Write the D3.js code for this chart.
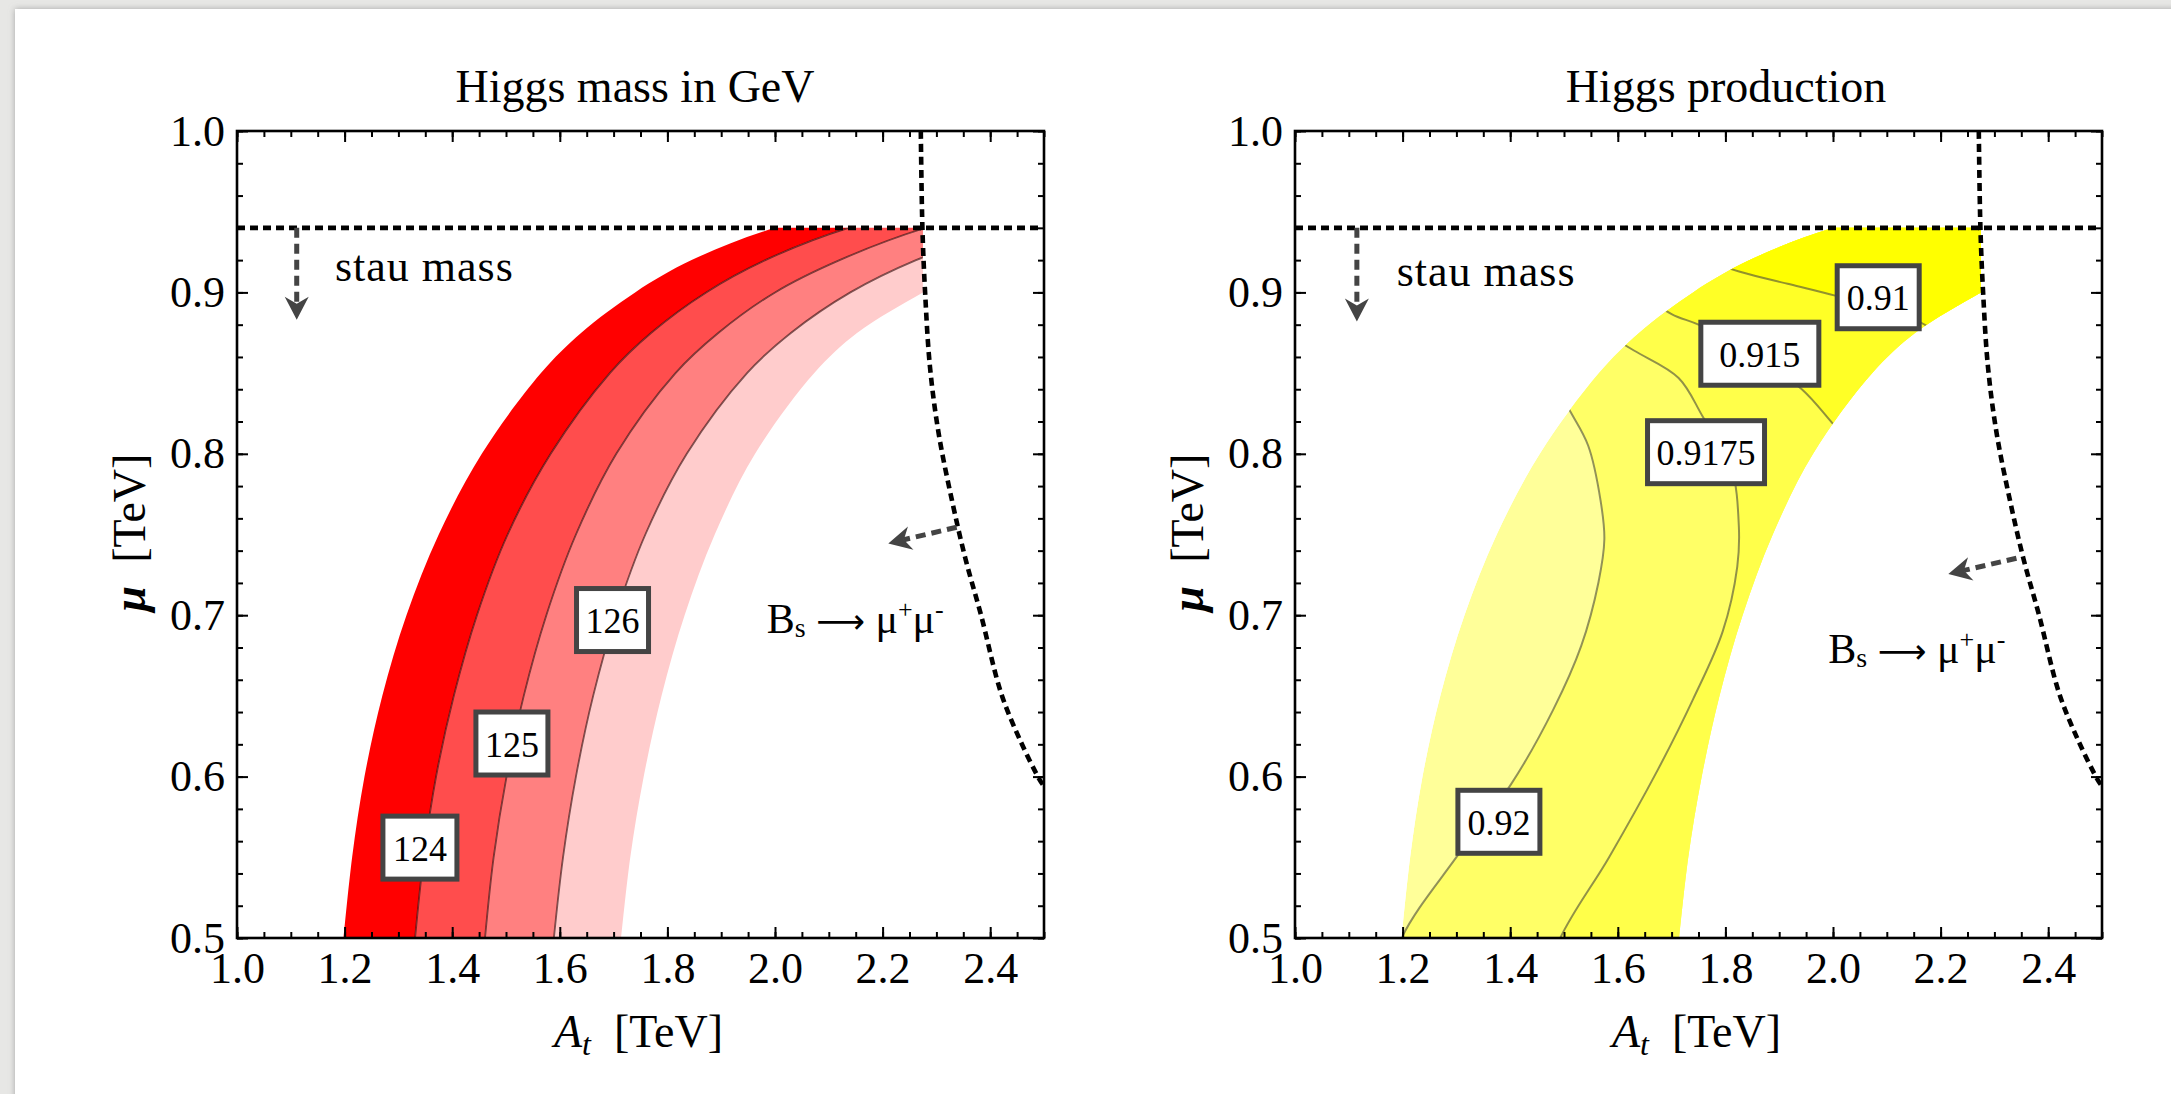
<!DOCTYPE html>
<html>
<head>
<meta charset="utf-8">
<script src="https://cdn.jsdelivr.net/npm/d3@7/dist/d3.min.js"></script>
<style>
html,body{margin:0;padding:0;background:#e7e7e5;}
svg{display:block;}
text{font-family:"Liberation Serif","Times New Roman",serif;fill:#000;}
</style>
</head>
<body>
<svg id="chart" width="2171" height="1094"></svg>
<script>
// ================= DATA =================
const xTickValues = [1.0, 1.2, 1.4, 1.6, 1.8, 2.0, 2.2, 2.4];
const yTickValues = [0.5, 0.6, 0.7, 0.8, 0.9, 1.0];
const panelTitles = ["Higgs mass in GeV", "Higgs production"];

// Higgs-mass contours: A_t [TeV] at each mu [TeV] of muGrid
const muGrid = [0.50, 0.55, 0.60, 0.65, 0.70, 0.75, 0.80, 0.85, 0.875, 0.90, 0.92, 0.94, 0.96];
const mhLow  = [1.198, 1.214, 1.237, 1.270, 1.315, 1.375, 1.455, 1.565, 1.640, 1.740, 1.845, 2.000, 2.250];
const mh124  = [1.331, 1.347, 1.370, 1.403, 1.446, 1.503, 1.583, 1.693, 1.770, 1.872, 1.982, 2.137, 2.390];
const mh125  = [1.461, 1.477, 1.501, 1.533, 1.575, 1.630, 1.705, 1.815, 1.895, 2.000, 2.120, 2.280, 2.530];
const mh126  = [1.589, 1.606, 1.630, 1.662, 1.704, 1.759, 1.836, 1.948, 2.030, 2.140, 2.262, 2.430, 2.680];
const mhHigh = [1.714, 1.731, 1.756, 1.789, 1.832, 1.888, 1.963, 2.073, 2.153, 2.275, 2.390, 2.550, 2.800];
const massLabels   = ["124", "125", "126"];
const massLabelAt  = [1.340, 1.511, 1.698];
const massLabelMu  = [0.556, 0.6205, 0.697];

// Higgs-production contours: [A_t, mu]
const prod0920  = [[1.150,0.45],[1.198,0.50],[1.299,0.5496],[1.402,0.5955],[1.480,0.6415],[1.532,0.681],[1.564,0.7203],[1.575,0.747],[1.568,0.771],[1.545,0.805],[1.512,0.826],[1.470,0.850]];
const prod09175 = [[1.440,0.45],[1.493,0.50],[1.583,0.5496],[1.674,0.604],[1.740,0.648],[1.795,0.690],[1.822,0.730],[1.825,0.755],[1.810,0.793],[1.758,0.823],[1.713,0.847],[1.630,0.864],[1.550,0.880]];
const prod0915  = [[1.620,0.905],[1.700,0.8866],[1.750,0.880],[1.850,0.862],[1.942,0.840],[1.998,0.8193],[2.060,0.795]];
const prod0910  = [[1.720,0.925],[1.827,0.9128],[1.920,0.905],[2.004,0.898],[2.084,0.890],[2.165,0.881],[2.180,0.878],[2.260,0.865]];
const prodLabels  = ["0.92", "0.9175", "0.915", "0.91"];
const prodLabelAt = [1.379, 1.764, 1.864, 2.084];
const prodLabelMu = [0.572, 0.801, 0.862, 0.897];

// Constraints
const stauMu = 0.94;
const bsBoundary = [[2.271,1.0],[2.274,0.94],[2.279,0.90],[2.288,0.854],[2.304,0.813],[2.329,0.771],[2.354,0.735],[2.383,0.700],[2.420,0.652],[2.455,0.623],[2.492,0.598],[2.500,0.594]];
const bsCut = 2.275;

// ================= LAYOUT =================
const PW = 807, PH = 807, PTOP = 131;
const panelX = [237, 1295];
const titleCenter = [398, 431];
const svg = d3.select("#chart");
const defs = svg.append("defs");

const sh = defs.append("filter").attr("id","shadow").attr("x","-2%").attr("y","-2%").attr("width","104%").attr("height","104%");
sh.append("feDropShadow").attr("dx",0).attr("dy",0).attr("stdDeviation",3).attr("flood-color","#8a8a8a").attr("flood-opacity",0.7);
svg.append("rect").attr("x",15).attr("y",9).attr("width",2171).attr("height",1094).attr("fill","#fff").attr("filter","url(#shadow)");

function drawPanel(idx) {
  const g = svg.append("g").attr("transform", `translate(${panelX[idx]},${PTOP})`);
  const x = d3.scaleLinear().domain([1.0, 2.5]).range([0, PW]);
  const y = d3.scaleLinear().domain([0.5, 1.0]).range([PH, 0]);

  defs.append("clipPath").attr("id", "rclip" + idx).append("rect")
    .attr("x", x(1.0)).attr("y", y(stauMu)).attr("width", x(bsCut) - x(1.0)).attr("height", y(0.5) - y(stauMu));
  defs.append("clipPath").attr("id", "pclip" + idx).append("rect")
    .attr("x", 0).attr("y", 0).attr("width", PW).attr("height", PH);

  const band = (lo, hi) => d3.area().curve(d3.curveCatmullRom)
      .y((d, i) => y(muGrid[i])).x0((d, i) => x(lo[i])).x1((d, i) => x(hi[i]))(muGrid);
  const vline = d3.line().curve(d3.curveCatmullRom).y((d, i) => y(muGrid[i])).x(d => x(d));
  const pline = d3.line().curve(d3.curveCatmullRom).x(d => x(d[0])).y(d => y(d[1]));

  const inner = g.append("g").attr("clip-path", `url(#rclip${idx})`);

  if (idx === 0) {
    const edges = [mhLow, mh124, mh125, mh126, mhHigh];
    const cols = ["#ff0000", "#ff4d4d", "#ff8080", "#ffcccc"];
    for (let k = 0; k < 4; k++) {
      inner.append("path").attr("d", band(edges[k], edges[k + 1])).attr("fill", cols[k]);
    }
    [mh124, mh125, mh126].forEach(c => {
      inner.append("path").attr("d", vline(c)).attr("fill", "none")
        .attr("stroke", "#3a1010").attr("stroke-opacity", 0.65).attr("stroke-width", 1.8);
    });
  } else {
    defs.append("clipPath").attr("id", "bclip" + idx).append("path").attr("d", band(mhLow, mhHigh));
    const zone = inner.append("g").attr("clip-path", `url(#bclip${idx})`);
    zone.append("path").attr("d", band(mhLow, mhHigh)).attr("fill", "#ffff99");
    const conts = [prod0920, prod09175, prod0915, prod0910];
    const cols = ["#ffff66", "#ffff4a", "#ffff26", "#ffff00"];
    conts.forEach((c, k) => {
      const first = c[0], last = c[c.length - 1];
      let d = pline(c);
      if (k < 2) {
        d += `L${x(last[0])},${y(1.05)}L${x(2.6)},${y(1.05)}L${x(2.6)},${y(0.45)}L${x(first[0])},${y(0.45)}Z`;
      } else {
        d += `L${x(2.6)},${y(last[1])}L${x(2.6)},${y(1.05)}L${x(first[0])},${y(1.05)}Z`;
      }
      zone.append("path").attr("d", d).attr("fill", cols[k]);
    });
    conts.forEach(c => {
      zone.append("path").attr("d", pline(c)).attr("fill", "none")
        .attr("stroke", "#4a4a3a").attr("stroke-opacity", 0.6).attr("stroke-width", 2);
    });
  }

  // constraint lines
  const cons = g.append("g").attr("clip-path", `url(#pclip${idx})`);
  cons.append("line").attr("x1", x(1.0)).attr("x2", x(2.5)).attr("y1", y(stauMu)).attr("y2", y(stauMu))
    .attr("stroke", "#000").attr("stroke-width", 4.6).attr("stroke-dasharray", "8,5");
  cons.append("path").attr("d", pline(bsBoundary)).attr("fill", "none")
    .attr("stroke", "#000").attr("stroke-width", 4.6).attr("stroke-dasharray", "8,5");

  // arrows
  const arrow = (a0, m0, a1, m1) => {
    const X0 = x(a0), Y0 = y(m0), X1 = x(a1), Y1 = y(m1);
    const ang = Math.atan2(Y1 - Y0, X1 - X0);
    const L = Math.hypot(X1 - X0, Y1 - Y0) - 16;
    g.append("line").attr("x1", X0).attr("y1", Y0)
      .attr("x2", X0 + Math.cos(ang) * L).attr("y2", Y0 + Math.sin(ang) * L)
      .attr("stroke", "#444").attr("stroke-width", 5).attr("stroke-dasharray", "10,6");
    g.append("path").attr("d", "M0,0L-23,-12L-16,0L-23,12Z").attr("fill", "#444")
      .attr("transform", `translate(${X1},${Y1}) rotate(${ang * 180 / Math.PI})`);
  };
  if (idx === 0) {
    arrow(1.111, stauMu, 1.111, 0.883);
    arrow(2.3377, 0.7545, 2.2106, 0.7445);
  } else {
    arrow(1.115, stauMu, 1.115, 0.882);
    arrow(2.341, 0.7353, 2.2144, 0.7255);
  }

  // annotations
  const stauPos = idx === 0 ? [1.182, 0.907] : [1.189, 0.904];
  g.append("text").attr("x", x(stauPos[0])).attr("y", y(stauPos[1]))
    .attr("font-size", 44).attr("letter-spacing", 1).text("stau mass");

  const bsPos = idx === 0 ? [1.9846, 0.6888] : [1.9913, 0.6704];
  const bt = g.append("text").attr("x", x(bsPos[0])).attr("y", y(bsPos[1])).attr("font-size", 42);
  bt.append("tspan").text("B");
  bt.append("tspan").attr("font-size", 28).attr("dy", 4).text("s");
  bt.append("tspan").attr("dy", -4).text("\u00a0");
  bt.append("tspan").attr("font-family", "DejaVu Sans").attr("font-size", 34).text("\u27f6");
  bt.append("tspan").text("\u00a0\u03bc");
  bt.append("tspan").attr("font-size", 26).attr("dy", -15).text("+");
  bt.append("tspan").attr("dy", 15).text("\u03bc");
  bt.append("tspan").attr("font-size", 26).attr("dy", -15).text("-");

  // contour labels
  const labs = idx === 0 ? massLabels : prodLabels;
  const la = idx === 0 ? massLabelAt : prodLabelAt;
  const lm = idx === 0 ? massLabelMu : prodLabelMu;
  const boxW = idx === 0 ? [79, 77, 77] : [87, 122, 123, 87];
  labs.forEach((t, i) => {
    const cx = x(la[i]), cy = y(lm[i]);
    g.append("rect").attr("x", cx - boxW[i] / 2 + 2.5).attr("y", cy - 34 + 2.5)
      .attr("width", boxW[i] - 5).attr("height", 63)
      .attr("fill", "#fff").attr("stroke", "#444").attr("stroke-width", 5);
    g.append("text").attr("x", cx).attr("y", cy + 1).attr("text-anchor", "middle")
      .attr("dominant-baseline", "central").attr("font-size", 36).text(t);
  });

  // axes (ticks inward on all sides)
  const styleAxis = sel => {
    sel.select(".domain").remove();
    sel.selectAll(".tick line").attr("stroke", "#000").attr("stroke-width", 2);
    sel.attr("font-family", '"Liberation Serif","Times New Roman",serif').attr("font-size", 44);
    sel.selectAll("text").attr("fill", "#000");
  };
  const xMinor = x.ticks(30), yMinor = y.ticks(25);
  g.append("g").attr("transform", `translate(0,${PH})`)
    .call(d3.axisBottom(x).tickValues(xMinor).tickSize(-6).tickFormat("")).call(styleAxis);
  g.append("g").attr("transform", `translate(0,${PH})`)
    .call(d3.axisBottom(x).tickValues(xTickValues).tickSize(-11).tickPadding(14).tickFormat(d3.format(".1f"))).call(styleAxis);
  g.append("g").call(d3.axisTop(x).tickValues(xMinor).tickSize(-6).tickFormat("")).call(styleAxis);
  g.append("g").call(d3.axisTop(x).tickValues(xTickValues).tickSize(-11).tickFormat("")).call(styleAxis);
  g.append("g").call(d3.axisLeft(y).tickValues(yMinor).tickSize(-6).tickFormat("")).call(styleAxis);
  g.append("g").call(d3.axisLeft(y).tickValues(yTickValues).tickSize(-11).tickPadding(12).tickFormat(d3.format(".1f"))).call(styleAxis);
  g.append("g").attr("transform", `translate(${PW},0)`)
    .call(d3.axisRight(y).tickValues(yMinor).tickSize(-6).tickFormat("")).call(styleAxis);
  g.append("g").attr("transform", `translate(${PW},0)`)
    .call(d3.axisRight(y).tickValues(yTickValues).tickSize(-11).tickFormat("")).call(styleAxis);

  g.append("rect").attr("x", 0).attr("y", 0).attr("width", PW).attr("height", PH)
    .attr("fill", "none").attr("stroke", "#000").attr("stroke-width", 2.6);

  // titles
  g.append("text").attr("x", titleCenter[idx]).attr("y", -29).attr("text-anchor", "middle")
    .attr("font-size", 46).text(panelTitles[idx]);

  const xt = g.append("text").attr("x", PW / 2 - 2).attr("y", 916).attr("text-anchor", "middle").attr("font-size", 46);
  xt.append("tspan").attr("font-style", "italic").text("A");
  xt.append("tspan").attr("font-style", "italic").attr("font-size", 32).attr("dy", 8).text("t");
  xt.append("tspan").attr("dy", -8).text("\u00a0\u00a0[TeV]");

  const yt = g.append("text").attr("transform", `translate(-92,${PH / 2 - 2}) rotate(-90)`)
    .attr("text-anchor", "middle").attr("font-size", 46);
  yt.append("tspan").attr("font-style", "italic").attr("font-weight", "bold").text("\u03bc");
  yt.append("tspan").text("\u00a0\u00a0[TeV]");
}

drawPanel(0);
drawPanel(1);
</script>
</body>
</html>
